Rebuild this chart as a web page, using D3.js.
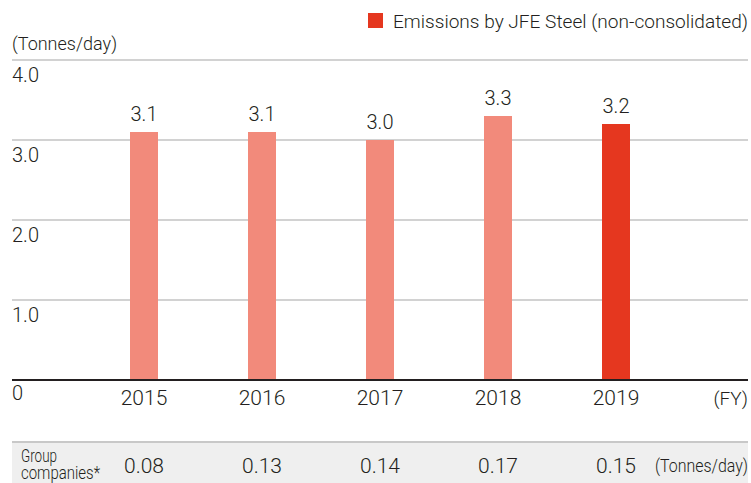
<!DOCTYPE html>
<html>
<head>
<meta charset="utf-8">
<script src="https://cdn.jsdelivr.net/npm/d3@7"></script>
<style>
  body { margin: 0; background: #fff; }
  text { font-family: Roboto, "Liberation Sans", sans-serif; fill: #231f20; font-weight: 300; }
</style>
</head>
<body>
<div id="chart"></div>
<script>
var years = ["2015", "2016", "2017", "2018", "2019"];
var emissions = [3.1, 3.1, 3.0, 3.3, 3.2];
var groupValues = ["0.08", "0.13", "0.14", "0.17", "0.15"];
var yTicks = [1, 2, 3, 4];
var legendLabel = "Emissions by JFE Steel (non-consolidated)";

var width = 751,
    height = 483,
    left = 12,
    right = 748;

var svg = d3.select("#chart").append("svg")
    .attr("width", width)
    .attr("height", height);

var x = d3.scalePoint()
    .domain(years)
    .range([144, 616]);

var y = d3.scaleLinear()
    .domain([0, 4])
    .range([380, 60]);

var barWidth = 28;

// Legend
svg.append("rect")
    .attr("x", 368).attr("y", 13)
    .attr("width", 15).attr("height", 15)
    .attr("fill", "#e5371f");
svg.append("text")
    .attr("x", 393).attr("y", 28)
    .attr("font-size", 18)
    .attr("textLength", 355)
    .attr("lengthAdjust", "spacingAndGlyphs")
    .text(legendLabel);

// Unit label
svg.append("text")
    .attr("x", left).attr("y", 50)
    .attr("font-size", 18)
    .text("(Tonnes/day)");

// Gridlines + tick labels (labels sit below their line)
var grid = svg.append("g")
    .selectAll("g")
    .data(yTicks)
    .enter().append("g");

grid.append("line")
    .attr("x1", left).attr("x2", right)
    .attr("y1", function (d) { return y(d); })
    .attr("y2", function (d) { return y(d); })
    .attr("stroke", "#d2d2d2")
    .attr("stroke-width", 2);

grid.append("text")
    .attr("x", left)
    .attr("y", function (d) { return y(d) + 22; })
    .attr("font-size", 20)
    .text(function (d) { return d3.format(".1f")(d); });

svg.append("text")
    .attr("x", left).attr("y", y(0) + 20)
    .attr("font-size", 20)
    .text("0");

// Bars
svg.append("g")
    .selectAll("rect")
    .data(emissions)
    .enter().append("rect")
    .attr("x", function (d, i) { return x(years[i]) - barWidth / 2; })
    .attr("y", function (d) { return y(d); })
    .attr("width", barWidth)
    .attr("height", function (d) { return y(0) - y(d); })
    .attr("fill", function (d, i) { return i === years.length - 1 ? "#e5371f" : "#f28a7b"; });

// Value labels
svg.append("g")
    .selectAll("text")
    .data(emissions)
    .enter().append("text")
    .attr("x", function (d, i) { return x(years[i]); })
    .attr("y", function (d) { return y(d) - 11; })
    .attr("text-anchor", "middle")
    .attr("font-size", 20)
    .text(function (d) { return d3.format(".1f")(d); });

// Baseline
svg.append("line")
    .attr("x1", left).attr("x2", right)
    .attr("y1", y(0)).attr("y2", y(0))
    .attr("stroke", "#231f20")
    .attr("stroke-width", 2);

// Year labels
svg.append("g")
    .selectAll("text")
    .data(years)
    .enter().append("text")
    .attr("x", function (d) { return x(d); })
    .attr("y", 405)
    .attr("text-anchor", "middle")
    .attr("font-size", 21)
    .text(function (d) { return d; });

svg.append("text")
    .attr("x", right).attr("y", 405)
    .attr("text-anchor", "end")
    .attr("font-size", 19)
    .text("(FY)");

// Group companies row
svg.append("rect")
    .attr("x", left).attr("y", 442)
    .attr("width", right - left).attr("height", height - 442)
    .attr("fill", "#efefef");
svg.append("line")
    .attr("x1", left).attr("x2", right)
    .attr("y1", 442).attr("y2", 442)
    .attr("stroke", "#c8c8c8")
    .attr("stroke-width", 2);

svg.append("text")
    .attr("x", 21).attr("y", 462)
    .attr("font-size", 18)
    .attr("textLength", 36)
    .attr("lengthAdjust", "spacingAndGlyphs")
    .text("Group");
svg.append("text")
    .attr("x", 21).attr("y", 479)
    .attr("font-size", 18)
    .attr("textLength", 79)
    .attr("lengthAdjust", "spacingAndGlyphs")
    .text("companies*");

svg.append("g")
    .selectAll("text")
    .data(groupValues)
    .enter().append("text")
    .attr("x", function (d, i) { return x(years[i]); })
    .attr("y", 473)
    .attr("text-anchor", "middle")
    .attr("font-size", 21)
    .text(function (d) { return d; });

svg.append("text")
    .attr("x", right).attr("y", 472)
    .attr("text-anchor", "end")
    .attr("font-size", 19)
    .attr("textLength", 93)
    .attr("lengthAdjust", "spacingAndGlyphs")
    .text("(Tonnes/day)");
</script>
</body>
</html>
